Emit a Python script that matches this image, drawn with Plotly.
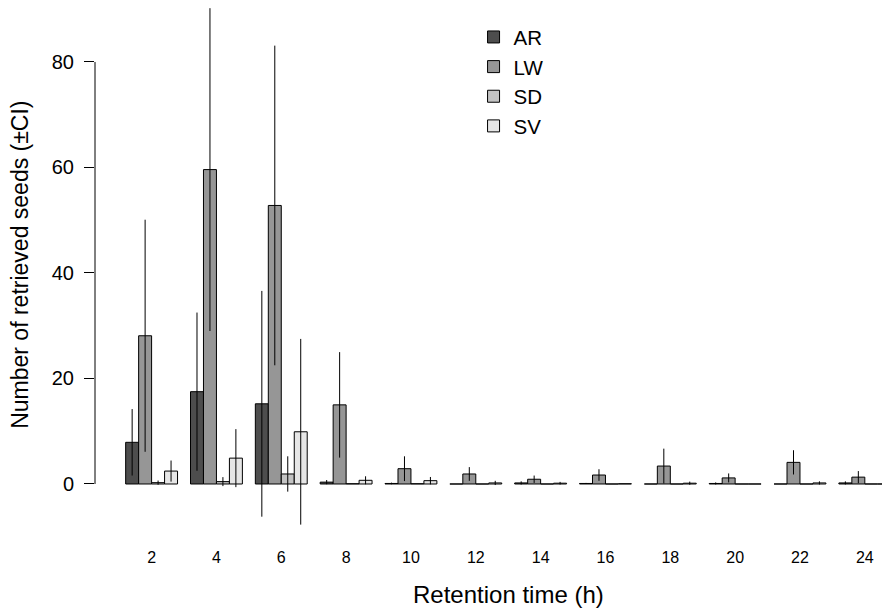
import plotly.graph_objects as go

hours = ["2", "4", "6", "8", "10", "12", "14", "16", "18", "20", "22", "24"]
series_names = ["AR", "LW", "SD", "SV"]

AR = [7.9, 17.5, 15.2, 0.35, 0.1, 0.0, 0.2, 0.1, 0.0, 0.1, 0.0, 0.2]
AR_ci = [6.3, 15.0, 21.4, 0.4, 0.15, 0.0, 0.3, 0.1, 0.0, 0.2, 0.0, 0.3]
LW = [28.1, 59.6, 52.8, 15.0, 2.9, 1.9, 0.9, 1.7, 3.4, 1.15, 4.1, 1.3]
LW_ci = [22.0, 30.6, 30.3, 10.0, 2.35, 1.3, 0.7, 1.1, 3.3, 0.85, 2.3, 1.15]
SD = [0.25, 0.45, 1.9, 0.05, 0.05, 0.0, 0.0, 0.0, 0.0, 0.0, 0.0, 0.0]
SD_ci = [0.4, 0.85, 3.35, 0.0, 0.0, 0.0, 0.0, 0.0, 0.0, 0.0, 0.0, 0.0]
SV = [2.45, 4.9, 9.9, 0.7, 0.63, 0.2, 0.15, 0.05, 0.15, 0.0, 0.2, 0.0]
SV_ci = [2.0, 5.5, 17.6, 0.76, 0.7, 0.4, 0.25, 0.0, 0.3, 0.0, 0.3, 0.0]

values = [AR, LW, SD, SV]
cis = [AR_ci, LW_ci, SD_ci, SV_ci]
colors = ["#4D4D4D", "#969696", "#C3C3C3", "#E6E6E6"]

x_title = "Retention time (h)"
y_title = "Number of retrieved seeds (±CI)"

FONT = "Liberation Sans, Arial, sans-serif"

fig = go.Figure()
for name, v, ci, c in zip(series_names, values, cis, colors):
    fig.add_trace(go.Bar(
        name=name, x=hours, y=v,
        marker=dict(color=c, line=dict(color="black", width=1)),
        error_y=dict(type="data", array=ci, symmetric=True, visible=True,
                     color="black", thickness=1, width=0),
    ))

fig.add_shape(type="line", xref="paper", yref="y", x0=0, x1=0, y0=0, y1=80,
              line=dict(color="black", width=1))

fig.add_annotation(text=x_title, xref="paper", yref="paper", x=0.525, y=-0.112,
                   xanchor="center", yanchor="middle", showarrow=False,
                   font=dict(size=24, family=FONT, color="black"))
fig.add_annotation(text=y_title, xref="paper", yref="paper", x=-0.0953, y=0.505,
                   xanchor="center", yanchor="middle", showarrow=False, textangle=-90,
                   font=dict(size=23, family=FONT, color="black"))

fig.update_layout(
    width=882, height=613,
    margin=dict(l=95, r=0, t=0, b=78),
    plot_bgcolor="white", paper_bgcolor="white",
    barmode="group", bargap=0.2, bargroupgap=0,
    font=dict(family=FONT, color="black"),
    showlegend=True,
    legend=dict(x=0.481, y=0.968, xanchor="left", yanchor="top",
                font=dict(size=20.5, family=FONT), bgcolor="rgba(0,0,0,0)",
                tracegroupgap=0),
    xaxis=dict(type="category", range=[-0.873, 11.265], showline=False,
               showgrid=False, zeroline=False, ticks="",
               tickfont=dict(size=16), ticklabelstandoff=11),
    yaxis=dict(range=[-9.67, 91.75], showline=False, showgrid=False,
               zeroline=False, ticks="outside", ticklen=10, tickcolor="black",
               tickwidth=1, tickvals=[0, 20, 40, 60, 80], tickfont=dict(size=20),
               ticklabelstandoff=6),
)

fig.write_html("out.html")
